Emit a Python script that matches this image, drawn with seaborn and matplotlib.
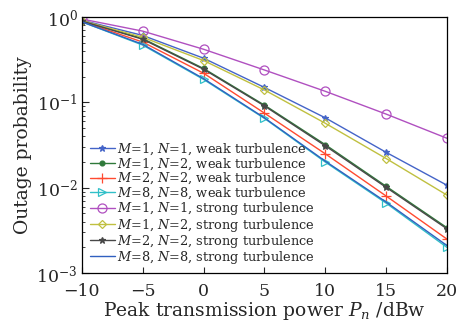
import numpy as np
import pandas as pd
import matplotlib
matplotlib.use("Agg")
import matplotlib.pyplot as plt
import seaborn as sns

power = [-10, -5, 0, 5, 10, 15, 20]

m1n1_weak = [0.92, 0.61, 0.33, 0.15, 0.066, 0.026, 0.0107]
m1n2_weak = [0.90, 0.56, 0.25, 0.093, 0.032, 0.0104, 0.0034]
m2n2_weak = [0.89, 0.51, 0.22, 0.075, 0.025, 0.0080, 0.0025]
m8n8_weak = [0.88, 0.47, 0.186, 0.065, 0.020, 0.0066, 0.0020]
m1n1_strong = [0.95, 0.685, 0.42, 0.24, 0.135, 0.073, 0.038]
m1n2_strong = [0.91, 0.58, 0.31, 0.14, 0.057, 0.022, 0.0082]
m2n2_strong = [0.90, 0.55, 0.245, 0.091, 0.031, 0.0101, 0.0033]
m8n8_strong = [0.88, 0.48, 0.19, 0.066, 0.0205, 0.0068, 0.0021]

labels = [
    "$M$=1, $N$=1, weak turbulence",
    "$M$=1, $N$=2, weak turbulence",
    "$M$=2, $N$=2, weak turbulence",
    "$M$=8, $N$=8, weak turbulence",
    "$M$=1, $N$=1, strong turbulence",
    "$M$=1, $N$=2, strong turbulence",
    "$M$=2, $N$=2, strong turbulence",
    "$M$=8, $N$=8, strong turbulence",
]
series = [m1n1_weak, m1n2_weak, m2n2_weak, m8n8_weak,
          m1n1_strong, m1n2_strong, m2n2_strong, m8n8_strong]

colors = ["#4464c8", "#2f7a3a", "#ff4a30", "#30c0c8",
          "#b050c0", "#c0c040", "#484848", "#3060c0"]
markers = ["*", "o", "+", ">", "o", "D", "*", None]
msizes = [5, 3.5, 6.5, 5.5, 6.5, 4.5, 5, 0]
filled = [True, True, True, False, False, False, True, True]

sns.set_style("white")
plt.rcParams["font.family"] = ["DejaVu Serif"]
plt.rcParams["mathtext.fontset"] = "dejavuserif"

fig = plt.figure(figsize=(4.73, 3.29), dpi=100)
ax = fig.add_axes([0.173, 0.170, 0.772, 0.778])

for vals, lab, c, m, ms, f in zip(series, labels, colors, markers, msizes, filled):
    df = pd.DataFrame({"x": power, "y": vals})
    kw = dict(color=c, linewidth=1.0, label=lab, ax=ax)
    if m is not None:
        kw.update(marker=m, markersize=ms, markeredgecolor=c,
                  markerfacecolor=c if f else "none", markeredgewidth=0.9)
    sns.lineplot(data=df, x="x", y="y", **kw)

ax.set_yscale("log")
ax.set_xlim(-10, 20)
ax.set_ylim(1e-3, 1)
ax.set_xticks([-10, -5, 0, 5, 10, 15, 20])
ax.set_xticklabels(["\u221210", "\u22125", "0", "5", "10", "15", "20"])
ax.tick_params(axis="both", which="both", direction="in", labelsize=12.5,
               left=True, bottom=True)
ax.tick_params(axis="y", which="major", length=5, pad=3)
ax.tick_params(axis="y", which="minor", length=2.5)
ax.tick_params(axis="x", which="major", length=4, pad=7)
for s in ax.spines.values():
    s.set_color("black")
    s.set_linewidth(0.9)

ax.set_xlabel("Peak transmission power $P_n$ /dBw", fontsize=13.5, labelpad=0)
ax.set_ylabel("Outage probability", fontsize=13.5, labelpad=3)

ax.legend(loc="lower left", bbox_to_anchor=(0.0, -0.005), frameon=False,
          fontsize=9.3, handlelength=1.9, handletextpad=0.15,
          labelspacing=-0.06, borderaxespad=0.25)

fig.savefig("out.png", dpi=100)
